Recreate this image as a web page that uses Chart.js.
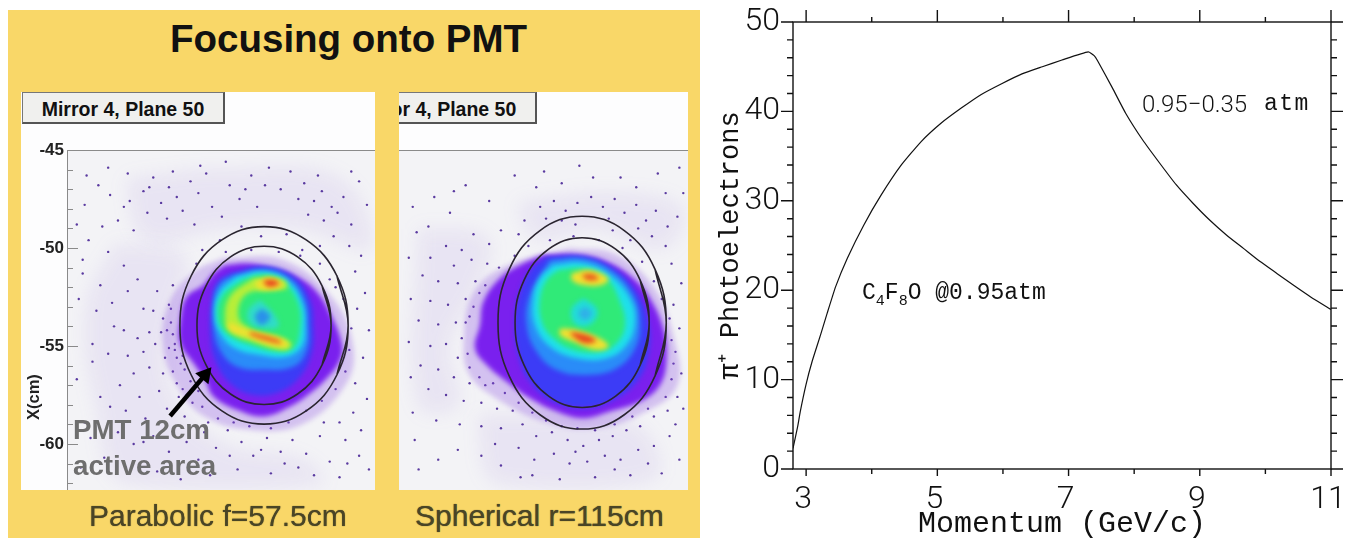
<!DOCTYPE html>
<html>
<head>
<meta charset="utf-8">
<title>Focusing onto PMT</title>
<script src="https://cdn.jsdelivr.net/npm/chart.js@4"></script>
<style>
html, body { margin: 0; padding: 0; background: #fff; }
#page { position: relative; width: 1348px; height: 538px; overflow: hidden; font-family: "Liberation Sans", sans-serif; }
#slide { position: absolute; left: 8px; top: 10px; width: 692px; height: 528px; background: #f9d768; }
.panel { position: absolute; background: #fdfdfe; top: 92px; height: 398px; overflow: hidden; }
.mirror { position: absolute; top: 0; width: 203px; height: 32px; line-height: 33px; background: #f0f0ee; border: 1px solid #777;
  border-right: 2px solid #555; border-bottom: 2px solid #555; box-sizing: border-box; text-align: center; font-weight: bold; font-size: 19.5px; color: #111; }
canvas { position: absolute; }
.label { position: absolute; white-space: nowrap; }
.caption { font-size: 30px; color: #4a4526; top: 499px; text-shadow: 0 0 1px #4a4526; }
.note { font-weight: bold; font-size: 27.7px; color: #6e6e6e; left: 73px; }
.mono { font-family: "Liberation Mono", monospace; color: #111; font-size: 23px; }
.mono sub { font-size: 15px; }
.digits { font-family: Roboto, sans-serif; font-weight: 300; font-size: 24px; color: #111; }
</style>
</head>
<body>
<div id="page">
  <div id="slide"></div>
  <div class="panel" style="left:21px;width:354px"><div class="mirror" style="left:1px">Mirror 4, Plane 50</div></div>
  <div class="panel" style="left:399px;width:289px"><div class="mirror" style="left:-65px">Mirror 4, Plane 50</div></div>
  <canvas id="leftPlot" width="354" height="350" style="left:21px;top:140px"></canvas>
  <canvas id="rightPlot" width="289" height="340" style="left:399px;top:150px"></canvas>
  <canvas id="curve" width="648" height="538" style="left:700px;top:0"></canvas>
  <div class="label" style="left:170px;top:17px;font-size:38.5px;font-weight:bold;color:#111">Focusing onto PMT</div>
  <div class="label" style="left:24px;top:420px;font-size:16.5px;font-weight:bold;color:#222;transform:rotate(-90deg);transform-origin:left top">X(cm)</div>
  <div class="label note" style="top:414px">PMT 12cm</div>
  <div class="label note" style="top:450px">active area</div>
  <div class="label caption" style="left:89px">Parabolic f=57.5cm</div>
  <div class="label caption" style="left:415px">Spherical r=115cm</div>
  <div class="label digits" style="left:1142px;top:90px">0.95&minus;0.35</div>
  <div class="label mono" style="left:1264px;top:91px;letter-spacing:1.5px">atm</div>
  <div class="label mono" style="left:862px;top:280px">C<sub>4</sub>F<sub>8</sub>O @0.95atm</div>
</div>
<script>
// right chart
const momentum = [2.8, 2.87, 2.91, 3.0, 3.09, 3.22, 3.32, 3.45, 3.63, 3.88, 4.14, 4.44, 4.75, 5.06, 5.37, 5.67, 5.98, 6.29, 6.6, 6.9, 7.3, 7.39, 7.44, 7.67, 7.87, 8.13, 8.39, 8.64, 8.9, 9.15, 9.41, 9.67, 9.92, 10.18, 10.43, 10.69, 11.0];
const photoelectrons = [2.3, 4.7, 6.4, 9.5, 12.0, 15.0, 17.4, 20.4, 23.6, 27.3, 30.6, 33.9, 36.6, 38.7, 40.4, 41.9, 43.1, 44.2, 45.0, 45.75, 46.65, 46.24, 45.7, 42.6, 39.8, 36.8, 34.2, 31.8, 29.7, 27.85, 26.15, 24.65, 23.2, 21.85, 20.55, 19.25, 17.85];
const xTickValues = [3, 4, 5, 6, 7, 8, 9, 10, 11];
const xTickLabels = [3, 5, 7, 9, 11];
const yTickValues = [0, 2, 4, 6, 8, 10, 12, 14, 16, 18, 20, 22, 24, 26, 28, 30, 32, 34, 36, 38, 40, 42, 44, 46, 48, 50];
const yTickLabels = [0, 10, 20, 30, 40, 50];

// slide plots: vertical axis is X(cm), horizontal is cm from the left edge of each plot
const slideTicks = [-45, -46, -47, -48, -49, -50, -51, -52, -53, -54, -55, -56, -57, -58, -59, -60, -61, -62];
const slideLabels = [-45, -50, -55, -60];

const leftOuterRing = [[14.34,-53.95],[13.77,-51.43],[12.2,-49.59],[10.05,-48.91],[7.9,-49.59],[6.33,-51.43],[5.76,-53.95],[6.33,-56.47],[7.9,-58.31],[10.05,-58.99],[12.2,-58.31],[13.77,-56.47]];
const leftInnerRing = [[13.47,-53.95],[13.01,-51.93],[11.76,-50.45],[10.05,-49.91],[8.34,-50.45],[7.09,-51.93],[6.63,-53.95],[7.09,-55.97],[8.34,-57.45],[10.05,-57.99],[11.76,-57.45],[13.01,-55.97]];
const rightOuterRing = [[13.63,-53.81],[13.06,-51.09],[11.49,-49.11],[9.34,-48.38],[7.19,-49.11],[5.62,-51.09],[5.05,-53.81],[5.62,-56.53],[7.19,-58.51],[9.34,-59.24],[11.49,-58.51],[13.06,-56.53]];
const rightInnerRing = [[12.76,-53.81],[12.3,-51.64],[11.05,-50.06],[9.34,-49.48],[7.63,-50.06],[6.38,-51.64],[5.92,-53.81],[6.38,-55.98],[7.63,-57.56],[9.34,-58.14],[11.05,-57.56],[12.3,-55.98]];
const arrowLine = [[5.26,-58.57],[7.04,-56.48]];

// pale clouds where the scatter is dense
const leftClouds = [
  [[2.5,-49.8],[6,-50.5],[5.5,-53],[5.2,-57],[8,-60],[12,-60.8],[13,-62],[3,-62],[1.5,-58],[1,-53]],
  [[3,-46.5],[8,-46],[14,-46.5],[15.5,-50],[12,-49],[8,-49],[4,-49.5]]
];
const rightClouds = [
  [[6,-47.7],[11,-47.2],[14.5,-48],[13.5,-50],[10,-49],[7,-49.5]],
  [[1,-49],[4.5,-49.5],[4,-52],[2.5,-55],[3,-58],[1,-58]],
  [[4,-58.5],[12,-59],[13,-61.8],[5,-62]]
];

// density contours, from the outer fringe to the hot spots
const leftLevels = [
  [[8,-50.5],[11,-50.6],[13.5,-52.5],[14.6,-55],[14.2,-57],[12,-59],[9.5,-59.3],[7,-58.6],[5.6,-57],[4.9,-55],[5.2,-52.8],[6.5,-51.2]],
  [[8.06,-50.87],[9.17,-50.78],[10.53,-51.04],[11.72,-51.46],[12.74,-52.23],[13.42,-53.33],[14.01,-54.86],[13.93,-55.71],[13.25,-56.65],[12.4,-57.41],[11.38,-58.09],[10.02,-58.6],[8.66,-58.26],[7.47,-57.58],[7.04,-56.73],[6.45,-55.88],[5.77,-54.86],[5.77,-53.67],[6.11,-52.48],[6.96,-51.89],[7.47,-51.29]],
  [[8.32,-51.29],[10.02,-50.95],[11.55,-51.46],[12.4,-52.65],[12.57,-54.01],[12.48,-55.37],[11.89,-56.56],[10.87,-57.33],[9.5,-57.5],[8.32,-56.9],[7.55,-55.71],[7.3,-54.35],[7.38,-52.82],[7.64,-51.8]],
  [[8.49,-51.38],[10.02,-51.09],[11.38,-51.55],[12.14,-52.65],[12.31,-54.01],[12.23,-55.2],[11.55,-56.05],[10.02,-56.22],[8.66,-56.05],[7.81,-55.2],[7.47,-54.01],[7.47,-52.65],[7.81,-51.8]],
  [[8.66,-51.46],[10.02,-51.2],[11.21,-51.63],[11.97,-52.74],[12.14,-54.01],[11.97,-55.03],[11.21,-55.54],[9.85,-55.46],[8.57,-55.12],[7.81,-54.35],[7.55,-53.33],[7.81,-52.23]],
  [[8.91,-51.63],[10.02,-51.37],[11.04,-51.72],[11.8,-52.82],[11.89,-54.18],[11.55,-55.12],[10.69,-55.29],[9.34,-54.95],[8.23,-54.44],[7.72,-53.67],[7.89,-52.48]],
  [[9.51,-51.55],[11.04,-51.63],[11.21,-52.06],[10.19,-52.14],[9.08,-52.4],[8.74,-53.5],[9.34,-54.1],[11.04,-54.6],[11.46,-54.95],[11.04,-55.2],[9.5,-54.78],[8.31,-54.27],[8.06,-53.67],[8.31,-52.48]],
  [[9.85,-52.65],[10.53,-53.33],[10.78,-54.01],[10.02,-54.1],[9.34,-53.84],[9.25,-53.16]],
  [[9.93,-53.08],[10.36,-53.5],[9.93,-53.93],[9.59,-53.5]],
  [[8.23,-53.76],[9.17,-54.18],[11.04,-54.69],[11.29,-55],[10.69,-55.03],[9.17,-54.52],[8.31,-54.18]],
  [[9.34,-54.27],[10.87,-54.72],[10.87,-54.89],[9.34,-54.44]],
  [[9.59,-51.72],[10.36,-51.49],[11.04,-51.89],[10.53,-52.14],[9.76,-52.06]],
  [[9.98,-51.66],[10.53,-51.63],[10.83,-51.83],[10.27,-51.97]]
];
const leftLevelColors = ['rgba(140,80,225,0.3)', '#7a20ee', '#3c3cf6', '#2a8cf8', '#1fe0ea', '#30ea78', '#b8ee38', '#30dcc8', '#2a90ea', '#f2e030', '#ea5a20', '#f2e030', '#e84020'];

const rightLevels = [
  [[8.7,-50],[11,-50.3],[13,-52],[14,-54.5],[14.2,-57],[12.5,-58.4],[10,-59.2],[7.5,-58.9],[5,-57.7],[3.6,-56.5],[3.3,-54.8],[3.8,-52.3],[5.5,-50.9]],
  [[7.36,-50.36],[9.23,-50.36],[10.76,-50.78],[11.95,-51.55],[12.8,-52.57],[13.48,-54.1],[13.65,-55.63],[13.31,-56.99],[12.29,-57.84],[10.76,-58.35],[9.4,-58.69],[8.04,-58.35],[6.68,-57.67],[5.49,-56.82],[4.47,-55.97],[3.88,-55.12],[4.13,-53.93],[4.3,-52.74],[5.15,-51.55],[6.17,-50.87]],
  [[7.53,-50.44],[9.4,-50.44],[10.93,-51.04],[12.12,-52.23],[12.72,-53.76],[12.72,-55.46],[12.12,-56.82],[10.76,-57.84],[9.4,-58.18],[7.87,-57.84],[6.68,-56.82],[6.09,-55.46],[5.92,-53.76],[6.17,-52.23],[6.77,-51.04]],
  [[7.7,-50.61],[9.4,-50.53],[10.93,-51.21],[11.95,-52.4],[12.29,-53.76],[12.04,-55.12],[11.1,-56.14],[9.57,-56.48],[8.04,-56.22],[7.02,-55.29],[6.51,-53.93],[6.68,-52.4]],
  [[7.87,-50.87],[9.4,-50.78],[10.76,-51.38],[11.78,-52.57],[12.04,-53.76],[11.61,-54.95],[10.59,-55.63],[9.06,-55.63],[7.7,-55.03],[6.94,-53.93],[6.85,-52.57],[7.19,-51.55]],
  [[8.13,-51.12],[9.4,-51.04],[10.59,-51.55],[11.27,-52.74],[11.53,-53.93],[11.1,-54.86],[10.25,-55.29],[8.89,-55.2],[7.87,-54.61],[7.28,-53.76],[7.19,-52.57],[7.53,-51.63]],
  [[9.4,-52.57],[10.08,-53.08],[10,-53.67],[9.4,-54.01],[8.89,-53.76],[8.81,-53.08]],
  [[9.49,-52.99],[9.83,-53.33],[9.49,-53.67],[9.15,-53.33]],
  [[8.81,-51.29],[9.74,-51.12],[10.68,-51.55],[10.34,-51.89],[9.4,-51.89],[8.81,-51.63]],
  [[9.32,-51.34],[9.91,-51.34],[10.17,-51.58],[9.57,-51.63]],
  [[8.21,-54.1],[9.06,-54.18],[10.25,-54.61],[10.68,-55.03],[10.08,-55.2],[8.89,-54.78],[8.21,-54.44]],
  [[8.72,-54.27],[9.57,-54.44],[10.05,-54.74],[9.49,-54.86],[8.89,-54.52]]
];
const rightLevelColors = ['rgba(140,80,225,0.3)', '#7a20ee', '#3c3cf6', '#2a8cf8', '#1fe0ea', '#30ea78', '#22dcd8', '#30b0e8', '#f2e030', '#ea5a20', '#f2e030', '#e84820'];

// scatter outside the spot, placed by eye
const leftScatter = [[3.2,-47.6],[3.9,-47.1],[4.4,-46.4],[4.1,-48.2],[4.8,-47.7],[5.2,-46.9],[5.6,-47.4],[5.1,-48.5],[5.9,-48.1],[6.3,-46.6],[6.7,-47.2],[7.1,-46.2],[7.4,-47.9],[6.5,-48.8],[3.4,-49.1],[2.6,-48.6],[7.9,-48.4],[8.3,-46.8],[8.8,-47.5],[9.4,-46.3],[9.7,-47.9],[10.3,-45.9],[10.9,-47],[11.4,-46.1],[12.1,-46.7],[12.6,-47.6],[13,-47.1],[13.5,-47.9],[12.3,-48.3],[13.1,-48.6],[13.8,-48.2],[14.1,-47.4],[14.5,-48.8],[14.9,-46.6],[15.3,-47.8],[13.6,-49.4],[14.4,-49.9],[15,-50.4],[14.7,-51.2],[15.2,-52.3],[14.8,-53.1],[15.4,-54.2],[15.1,-55.6],[14.7,-56.9],[15.3,-57.7],[14.6,-58.4],[15,-59.3],[14.2,-59.8],[14.9,-60.6],[15.4,-61.3],[1.1,-49.6],[2.1,-50.2],[0.8,-51.3],[1.7,-51.9],[2.9,-50.9],[3.6,-51.6],[0.6,-52.6],[1.5,-53.2],[2.3,-52.8],[4.6,-52.2],[5.2,-52.9],[4.9,-53.6],[5.4,-54.4],[4.5,-54.9],[3.9,-55.3],[5,-55.6],[4.2,-56.1],[3.4,-56.4],[2.7,-57],[5.6,-56.9],[4.7,-57.3],[3.7,-57.6],[2.2,-58.1],[3,-58.3],[4,-58.7],[5.1,-58.2],[5.7,-57.6],[6,-58.6],[2.6,-59.4],[1.2,-59.7],[3.4,-60],[4.4,-59.6],[5.2,-60.4],[6.1,-59.9],[7,-59.4],[7.6,-60.2],[8.2,-59.3],[8.9,-59.9],[9.5,-60.6],[10.2,-59.7],[10.9,-60.4],[11.5,-59.8],[12.2,-60.5],[12.9,-59.6],[13.4,-60.9],[11.8,-61.2],[10.4,-61.5],[8.7,-61.3],[7.3,-61.6],[5.8,-61.8],[4.6,-61.4],[3,-61.2],[6.9,-50.1],[7.8,-49.6],[8.9,-48.9],[11.2,-49.3],[12,-50.1],[12.9,-49.9],[9.9,-49.4],[13.4,-51.6],[5.8,-55.9],[5.5,-55.2],[5.3,-53.8],[4.4,-53.2],[4.2,-54.3],[5.9,-57.2],[6.4,-57.9],[7.2,-58.9],[3.1,-55.5],[3.6,-54.6],[2.1,-55.4],[2.9,-54.2],[0.9,-47.8],[1.6,-46.8],[2.2,-47.3],[1.3,-55.8],[1.9,-60.7],[0.7,-61.2],[5.3,-53.1],[5.5,-54.9],[5.1,-54.2],[5.6,-55.6],[6,-56.2],[6.3,-56.8],[6.7,-57.3],[5.9,-55.5],[5.2,-55.1],[4.8,-54.3],[4.9,-56.4],[5.4,-56.3],[6.1,-57.5],[6.9,-58.1],[7.7,-58.7],[8.5,-58.9],[9.3,-59.1],[10.4,-59.2],[11.3,-58.9],[12.2,-58.3],[13,-57.8],[13.7,-57.2],[14.2,-56.3],[14.4,-55.2],[14.5,-54.1],[14.1,-52.6],[13.7,-52],[12.9,-50.8],[11.9,-50.4],[10.8,-50.2],[9.4,-50.1],[8.1,-50.2],[6.6,-50.8],[5.4,-51.9],[4.2,-46.9],[5.4,-46.1],[6.8,-45.8],[8.1,-45.6],[9.1,-47],[10.1,-46.8],[11.8,-47.5],[12.8,-46.3],[14.5,-46.1],[3.1,-46.2],[2.1,-45.9],[1,-46.3],[0.5,-48.8],[1.8,-48.9],[2.9,-47.9],[0.8,-50.6],[3.1,-52.2],[3.9,-53.1],[2.4,-54],[1.3,-54.9],[0.5,-56.7],[1.7,-57.6],[0.9,-58.9],[3.9,-59.9],[6.7,-60.8],[8.3,-60.6],[9.9,-60.3],[11.1,-61],[12.6,-61.6],[13.9,-61.7],[14.3,-61],[13.1,-58.9],[13.9,-58.9]];
const rightScatter = [[7.2,-47.9],[7.9,-47.6],[8.5,-48.1],[9.1,-47.7],[9.8,-47.4],[10.4,-47.9],[11,-47.5],[11.5,-48.2],[12.1,-47.8],[12.6,-48.6],[13.1,-48.1],[13.7,-48.9],[14.2,-48.4],[12.9,-49.4],[13.6,-49.9],[12.2,-49],[10.7,-48.5],[8.3,-48.6],[6.4,-48.6],[6.1,-49.3],[5.2,-49.1],[4.6,-49.8],[3.8,-49.3],[3.2,-50.1],[2.4,-49.9],[1.6,-50.5],[2.8,-50.9],[3.7,-50.6],[4.5,-50.8],[1.2,-51.4],[2,-51.7],[3,-51.8],[3.9,-51.7],[0.6,-52.6],[1.6,-52.7],[2.5,-52.9],[3.4,-52.6],[4.1,-52.3],[1,-53.7],[2,-53.9],[2.9,-53.8],[3.6,-53.5],[0.5,-54.8],[1.6,-55],[2.4,-54.9],[3,-55.6],[1.1,-56],[2,-56.2],[2.8,-56.6],[3.6,-56.9],[4.4,-57],[1.5,-57.2],[2.4,-57.5],[3.3,-57.8],[4.2,-57.9],[5,-58.2],[5.8,-58.3],[0.7,-58.4],[1.9,-58.8],[3.1,-59],[4.2,-59.1],[5.2,-59.2],[6.3,-59],[7,-59.6],[7.8,-59.4],[8.6,-59.8],[9.4,-60.1],[10.2,-59.8],[10.9,-59.6],[11.6,-59.3],[12.3,-59.1],[13,-58.6],[13.7,-58.3],[14.2,-57.6],[14.4,-56.4],[14.1,-55.3],[14.3,-54.1],[14,-52.9],[14.4,-51.8],[13.9,-50.8],[6.1,-60.2],[6.9,-60.8],[7.9,-60.5],[8.7,-61],[9.6,-60.9],[10.5,-60.6],[11.3,-60.8],[12.2,-60.3],[13,-60.1],[13.8,-59.6],[14.3,-60.8],[5.2,-61.1],[4.2,-60.6],[3,-60.3],[2,-60.8],[1,-61.3],[6.8,-61.6],[8.2,-61.8],[10,-61.7],[11.8,-61.6],[13.4,-61.5],[1.8,-47.4],[3.4,-46.8],[4.6,-47.6],[5.9,-46.3],[7.4,-46.1],[9.2,-45.8],[11.3,-46.4],[13.2,-46.2],[14.3,-45.9],[2.6,-48.2],[0.9,-49.2],[14.5,-47.2],[3.5,-55.4],[3.2,-54.6],[3.4,-53.8],[3.8,-53],[4.4,-51.9],[5.1,-51],[5.9,-50.4],[3.6,-56.1],[4.1,-56.6],[4.8,-56.9],[5.4,-57.4],[6.1,-57.9],[6.8,-58.4],[7.5,-58.8],[8.3,-59.1],[9.1,-59.2],[10,-59.3],[11,-59],[11.9,-58.6],[12.7,-58.2],[13.6,-57.6],[13.9,-56.7],[14,-55.9],[13.9,-54.7],[13.8,-53.6],[13.4,-52.6],[13,-51.7],[12.4,-50.7],[11.4,-50],[10.2,-49.6],[8.9,-49.4],[7.7,-49.6],[6.6,-49.9],[7.5,-48.5],[9,-48.8],[10.9,-49.1],[11.8,-49.6],[7,-46.9],[8.3,-46.7],[9.9,-46.4],[12.1,-46.9],[13.6,-47.2],[2.8,-47.1],[0.7,-47.9],[1.5,-48.9],[0.5,-50.5],[0.6,-56.6],[0.8,-59.8],[4.9,-60],[6.2,-61.7],[9,-60.4],[11,-61.3],[12.7,-61],[14.1,-59],[14.5,-58.2]];

// pixels of the plot frame on the page
const curveFrame = { left: 93, right: 17, top: 22, bottom: 69 };
const inkColor = '#111';

function closed(list) {
  return list.concat([list[0]]).map(p => ({ x: p[0], y: p[1] }));
}

// the ring overlaps its start so the spline has no cusp where it closes
function wrapped(list) {
  return [list[list.length - 1]].concat(list, [list[0], list[1]]).map(p => ({ x: p[0], y: p[1] }));
}

function contourSet(list, color, blurred) {
  return {
    data: closed(list), fill: 'shape', backgroundColor: color, borderWidth: 0,
    pointRadius: 0, tension: 0.4, blur: blurred
  };
}

function ringSet(list) {
  return { data: wrapped(list), borderColor: '#2a2530', borderWidth: 1.6, pointRadius: 0, tension: 0.4, fill: false };
}

// no label overhang: the plot frame stays where the layout padding puts it
function noOverhang(s) {
  s.paddingLeft = s.paddingRight = s.paddingTop = s.paddingBottom = 0;
}

// blur the filled contours, the filter has to be on before the filler runs
const blurContours = {
  id: 'blurContours',
  beforeDatasetsDraw(chart) {
    const last = chart.data.datasets.length - 1;
    chart.ctx.filter = chart.data.datasets[last].blur ? 'blur(' + chart.data.datasets[last].blur + 'px)' : 'none';
  },
  afterDatasetDraw(chart, args) {
    const next = chart.data.datasets[args.index - 1];
    chart.ctx.filter = next && next.blur ? 'blur(' + next.blur + 'px)' : 'none';
  },
  afterDatasetsDraw(chart) {
    chart.ctx.filter = 'none';
  }
};

const slideFrame = {
  id: 'slideFrame',
  beforeDatasetsDraw(chart) {
    const { ctx, chartArea: a } = chart;
    ctx.fillStyle = '#f3f3f6';
    ctx.fillRect(a.left, a.top, a.right - a.left, a.bottom - a.top);
    ctx.strokeStyle = '#8a8a8a';
    ctx.lineWidth = 1;
    ctx.beginPath();
    ctx.moveTo(a.left, a.top + 0.5);
    ctx.lineTo(a.right, a.top + 0.5);
    ctx.stroke();
    if (!chart.scales.y.options.display) return;
    ctx.beginPath();
    ctx.moveTo(a.left + 0.5, a.top);
    ctx.lineTo(a.left + 0.5, a.bottom);
    slideTicks.forEach(v => {
      const y = Math.round(chart.scales.y.getPixelForValue(v)) + 0.5;
      ctx.moveTo(a.left, y);
      ctx.lineTo(a.left + (slideLabels.includes(v) ? 11 : 6), y);
    });
    ctx.stroke();
  }
};

function slidePlot(id, clouds, scatter, levels, colors, rings, arrow, xMax, withAxis) {
  const marks = [];
  if (arrow) {
    marks.push({
      data: arrow.map(p => ({ x: p[0], y: p[1] })), borderColor: '#000', borderWidth: 4.5, backgroundColor: '#000',
      pointRadius: [0, 10], pointStyle: 'triangle', rotation: 40, pointBorderWidth: 0, fill: false
    });
  }
  rings.forEach(r => marks.push(ringSet(r)));
  levels.slice().reverse().forEach((l, i) => marks.push(contourSet(l, colors[levels.length - 1 - i], 2.5)));
  marks.push({
    data: scatter.map(p => ({ x: p[0], y: p[1] })), showLine: false, fill: false,
    pointRadius: 1.2, pointBorderWidth: 0, backgroundColor: '#5a3aa0'
  });
  clouds.forEach(c => marks.push(contourSet(c, 'rgba(150,110,215,0.11)', 9)));

  new Chart(document.getElementById(id), {
    type: 'line',
    data: { datasets: marks },
    options: {
      responsive: false,
      animation: false,
      layout: { autoPadding: false, padding: { top: withAxis ? 10 : 0 } },
      plugins: { legend: { display: false }, tooltip: { enabled: false } },
      scales: {
        x: { type: 'linear', min: 0, max: xMax, display: false, afterFit: noOverhang },
        y: {
          type: 'linear', min: -62.35, max: -45, display: withAxis,
          border: { display: false },
          grid: { display: false, drawTicks: false },
          afterBuildTicks: s => { s.ticks = slideLabels.map(v => ({ value: v })); },
          afterFit: s => { noOverhang(s); s.width = withAxis ? 46 : 0; },
          ticks: { color: '#222', padding: 3, font: { family: 'Liberation Sans', weight: 'bold', size: 17 }, autoSkip: false }
        }
      }
    },
    plugins: [slideFrame, blurContours]
  });
}

slidePlot('leftPlot', leftClouds, leftScatter, leftLevels, leftLevelColors, [leftOuterRing, leftInnerRing], arrowLine, 15.71, true);
slidePlot('rightPlot', rightClouds, rightScatter, rightLevels, rightLevelColors, [rightOuterRing, rightInnerRing], null, 14.74, false);

// frame and outward ticks on all four sides, labelled values get the long ones
const curveTicks = {
  id: 'curveTicks',
  afterDraw(chart) {
    const { ctx, chartArea: a, scales } = chart;
    ctx.save();
    ctx.strokeStyle = inkColor;
    ctx.lineWidth = 1.4;
    ctx.strokeRect(a.left, a.top, a.right - a.left, a.bottom - a.top);
    ctx.beginPath();
    xTickValues.forEach(v => {
      const x = scales.x.getPixelForValue(v);
      const major = xTickLabels.includes(v);
      ctx.moveTo(x, a.bottom); ctx.lineTo(x, a.bottom + (major ? 7 : 5));
      ctx.moveTo(x, a.top); ctx.lineTo(x, a.top - (major ? 12 : 5));
    });
    yTickValues.forEach(v => {
      const y = scales.y.getPixelForValue(v);
      const len = yTickLabels.includes(v) ? 12 : 6;
      ctx.moveTo(a.left, y); ctx.lineTo(a.left - len, y);
      ctx.moveTo(a.right, y); ctx.lineTo(a.right + len, y);
    });
    ctx.stroke();
    ctx.restore();
  }
};

new Chart(document.getElementById('curve'), {
  type: 'line',
  data: {
    datasets: [{
      data: momentum.map((m, i) => ({ x: m, y: photoelectrons[i] })),
      borderColor: inkColor, borderWidth: 1.2, pointRadius: 0, tension: 0.15, fill: false
    }]
  },
  options: {
    responsive: false,
    animation: false,
    layout: { autoPadding: false, padding: { top: curveFrame.top, right: curveFrame.right } },
    plugins: { legend: { display: false }, tooltip: { enabled: false } },
    scales: {
      x: {
        type: 'linear', min: 2.8, max: 11,
        border: { display: false },
        grid: { display: false, drawTicks: false },
        afterBuildTicks: s => { s.ticks = xTickLabels.map(v => ({ value: v })); },
        afterFit: s => { noOverhang(s); s.height = curveFrame.bottom; },
        ticks: { color: inkColor, padding: 12, maxRotation: 0, autoSkip: false, labelOffset: -3, font: { family: 'Roboto', weight: 300, size: 32 } },
        title: {
          display: true, text: 'Momentum (GeV/c)', color: inkColor,
          font: { family: 'Liberation Mono', size: 30 }, padding: { top: 0, bottom: -4 }
        }
      },
      y: {
        type: 'linear', min: 0, max: 50,
        border: { display: false },
        grid: { display: false, drawTicks: false },
        afterBuildTicks: s => { s.ticks = yTickLabels.map(v => ({ value: v })); },
        afterFit: s => { noOverhang(s); s.width = curveFrame.left; },
        ticks: { color: inkColor, padding: 13, autoSkip: false, font: { family: 'Roboto', weight: 300, size: 32 } },
        title: {
          display: true, text: 'π⁺ Photoelectrons', color: inkColor,
          font: { family: 'Liberation Mono', size: 27 }, padding: { top: 15, bottom: 0 }
        }
      }
    }
  },
  plugins: [curveTicks]
});
</script>
</body>
</html>
